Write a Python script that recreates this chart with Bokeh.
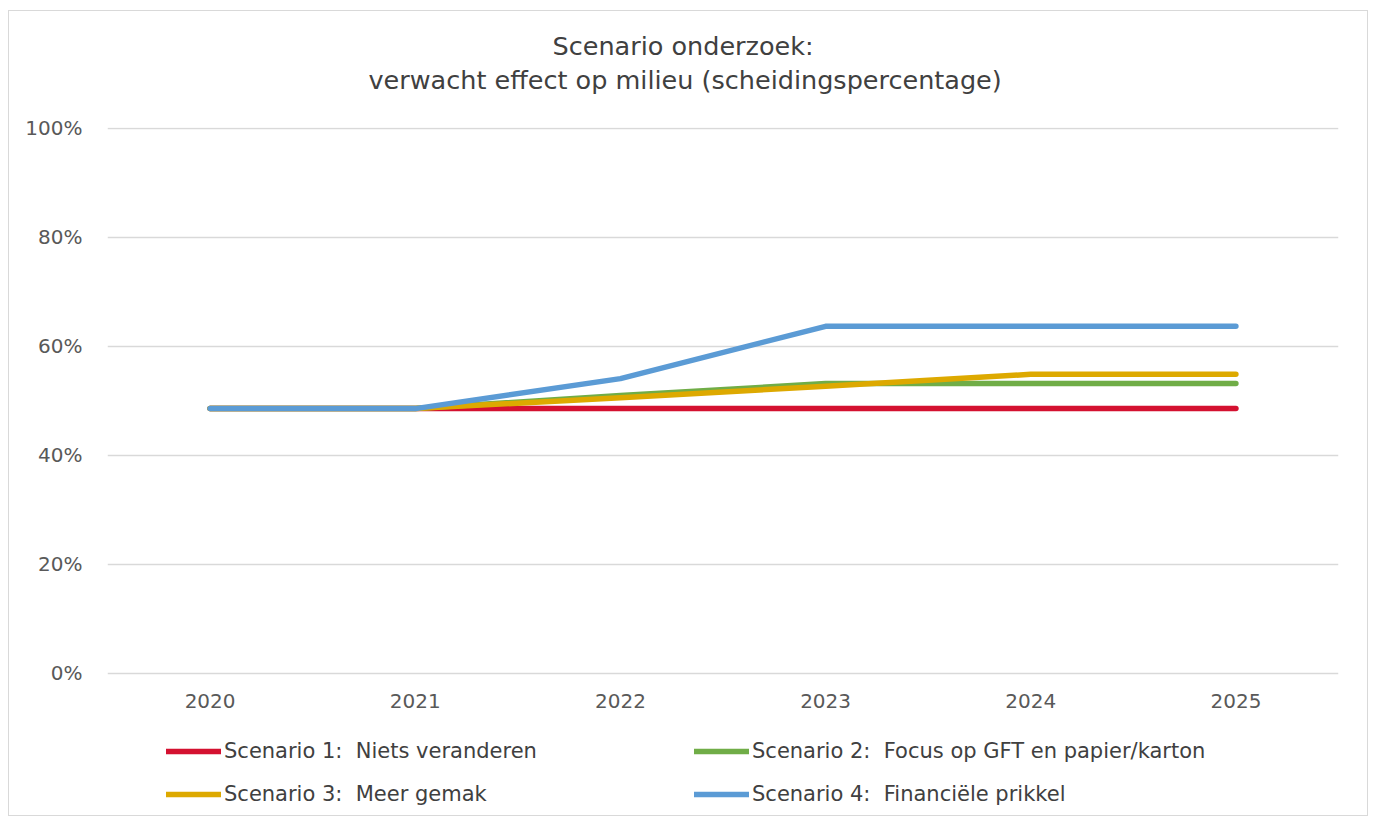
from bokeh.plotting import figure
from bokeh.models import Legend, LegendItem, Title, FixedTicker, CustomJSTickFormatter
from bokeh.core.properties import value
from bokeh.embed import file_html
from bokeh.resources import INLINE

years = ["2020", "2021", "2022", "2023", "2024", "2025"]
s1 = [48.6, 48.6, 48.6, 48.6, 48.6, 48.6]
s2 = [48.6, 48.6, 51.0, 53.2, 53.2, 53.2]
s3 = [48.6, 48.6, 50.6, 52.7, 54.9, 54.9]
s4 = [48.6, 48.6, 54.1, 63.7, 63.7, 63.7]
names = ["Scenario 1:  Niets veranderen",
         "Scenario 2:  Focus op GFT en papier/karton",
         "Scenario 3:  Meer gemak",
         "Scenario 4:  Financiële prikkel"]
colors = ["#D41130", "#70AD47", "#DDA900", "#5B9BD5"]
y_ticks = [0, 20, 40, 60, 80, 100]

FONT = "DejaVu Sans"
LABEL_Y = -5.1  # vertical position of the category labels (below the 0% line)

p = figure(width=1360, height=806, x_range=years, y_range=(-25.69, 100.18),
           output_backend="svg", toolbar_location=None, x_axis_location=None,
           min_border_left=98, min_border_right=31, min_border_top=116,
           min_border_bottom=4)
p.styles = {"border": "1px solid #d9d9d9", "margin-left": "8px", "margin-top": "10px"}
p.outline_line_color = None

# white (invisible) spacer between the title and the plot area
p.add_layout(Title(text=".", text_font=FONT, text_font_size="10px", standoff=22,
                   text_color="#ffffff"), "above")
p.add_layout(Title(text="verwacht effect op milieu (scheidingspercentage)", align="left",
                   offset=261, text_font=FONT, text_font_size="25.5px",
                   text_font_style="normal", text_color="#404040", standoff=2), "above")
p.add_layout(Title(text="Scenario onderzoek:", align="left", offset=445,
                   text_font=FONT, text_font_size="25.5px", text_font_style="normal",
                   text_color="#404040", standoff=2), "above")

renderers = []
for ys, c in zip([s1, s2, s3, s4], colors):
    r = p.line(years, ys, line_color=c, line_width=5.5, line_cap="round", line_join="round")
    renderers.append(r)

p.text(x=years, y=[LABEL_Y] * len(years), text=years, text_font=value(FONT),
       text_font_size="20px", text_color="#595959", text_align="center",
       text_baseline="middle")

p.yaxis.ticker = FixedTicker(ticks=y_ticks)
p.yaxis.formatter = CustomJSTickFormatter(code="return tick.toFixed(0) + '%';")
ax = p.yaxis[0]
ax.axis_line_color = None
ax.major_tick_line_color = None
ax.minor_tick_line_color = None
ax.major_label_text_font = FONT
ax.major_label_text_font_size = "20px"
ax.major_label_text_color = "#595959"
ax.major_label_standoff = 19
p.xgrid.grid_line_color = None
p.ygrid.grid_line_color = "#d9d9d9"
p.ygrid.grid_line_width = 1.5

items = [LegendItem(label=n, renderers=[r]) for n, r in zip(names, renderers)]
legend = Legend(items=items, ncols=2, orientation="horizontal", location=(59, 7),
                glyph_width=55, glyph_height=24, label_standoff=3, label_width=451,
                spacing=19, padding=0, margin=0,
                label_text_font=FONT, label_text_font_size="21px", label_text_color="#404040",
                border_line_color=None, background_fill_alpha=0)
p.add_layout(legend, "center")

open("out.html", "w").write(file_html(p, INLINE))
